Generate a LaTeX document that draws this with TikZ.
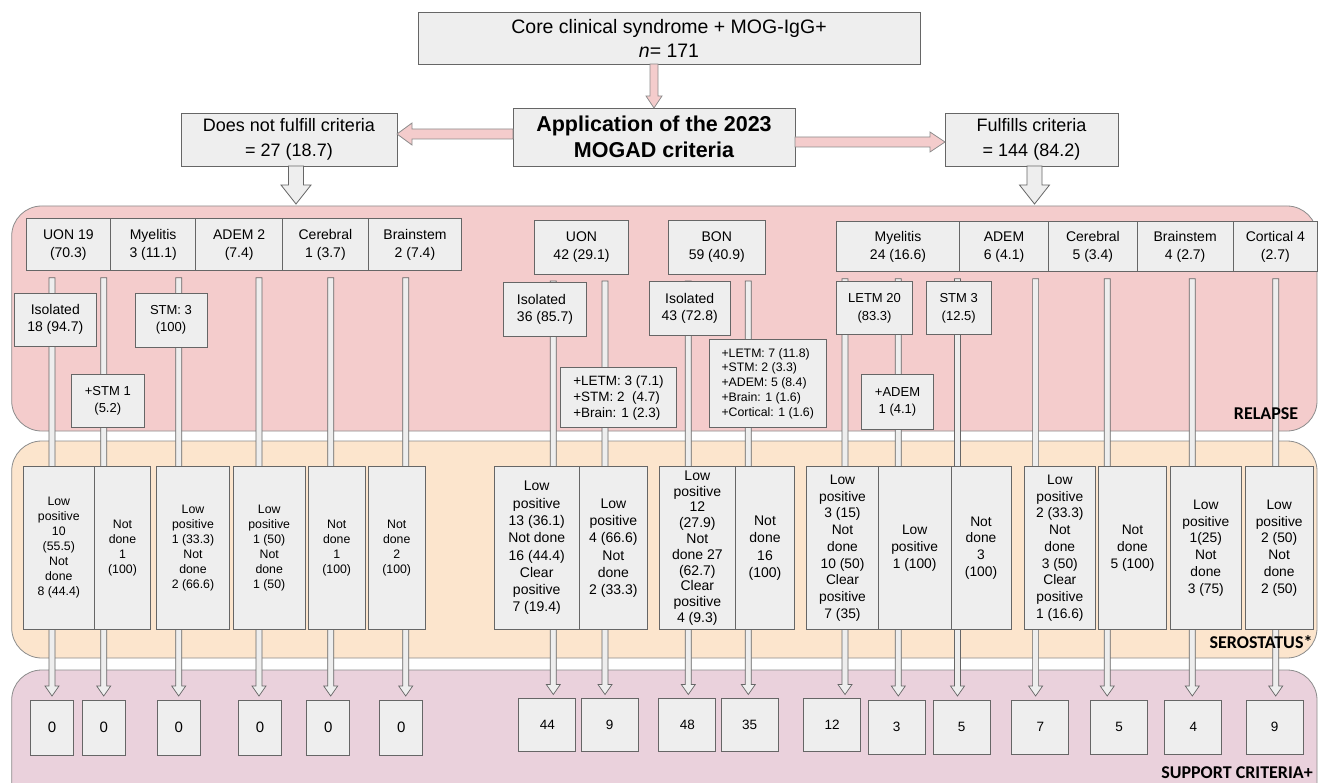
\documentclass[tikz,border=0pt]{standalone}
\usepackage{fontspec}
\setmainfont{Liberation Sans}
\newfontfamily\labelfont{Carlito}
\usetikzlibrary{positioning, calc}
\pgfdeclarelayer{background}
\pgfdeclarelayer{stems}
\pgfsetlayers{background,stems,main}
\definecolor{relapsepink}{HTML}{F4CCCC}
\definecolor{seropeach}{HTML}{FCE5CD}
\definecolor{supportmauve}{HTML}{EAD1DC}
\definecolor{boxfill}{HTML}{EEEEEE}
\definecolor{boxline}{HTML}{666666}
\definecolor{bandline}{HTML}{8C8C8C}
\newcommand{\blockarrow}[6]{%
  \coordinate (ba-h) at ($(#3)!#6!(#2)$);
  \path[#1] ($(#2)!#4!90:(#3)$) -- ($(ba-h)!#4!-90:(#2)$) -- ($(ba-h)!#5!-90:(#2)$)
    -- (#3) -- ($(ba-h)!#5!90:(#2)$) -- ($(ba-h)!#4!90:(#2)$) -- ($(#2)!#4!-90:(#3)$) -- cycle;}
\newcommand{\stem}[3][0pt]{%
  \coordinate (st-a) at ($(#3.north |- #2.south)+(#1,-7pt)$);
  \coordinate (st-b) at ($(#3.north)+(#1,4pt)$);
  \blockarrow{stembar}{st-a}{st-b}{3pt}{7pt}{10pt}}
\tikzset{
    box/.style={draw=boxline, fill=boxfill, line width=0.8pt, inner sep=1pt, outer sep=0pt, align=center},
    hdr/.style={box, minimum height=52pt, font=\fontsize{14}{18}\selectfont},
    subbig/.style={box, font=\fontsize{14}{17}\selectfont},
    subsmall/.style={box, font=\fontsize{13}{16.7}\selectfont},
    sero/.style={box, minimum height=162.6pt, font=\fontsize{12.3}{15}\selectfont},
    seromid/.style={sero, font=\fontsize{14}{17.3}\selectfont},
    seroright/.style={sero, font=\fontsize{13.8}{16.7}\selectfont},
    suppleft/.style={box, minimum width=43pt, minimum height=55pt, font=\fontsize{15}{17}\selectfont},
    supp/.style={box, minimum width=57pt, minimum height=54pt, font=\fontsize{13.5}{15}\selectfont},
    band/.style={draw=bandline, line width=0.8pt, rounded corners=30pt},
    bandlabel/.style={font=\labelfont\bfseries\fontsize{18}{20}\selectfont},
    pinkarrow/.style={draw=bandline, fill=relapsepink, line width=0.8pt},
    grayarrow/.style={draw=boxline, fill=boxfill, line width=0.8pt},
    stembar/.style={draw=boxline, fill=boxfill, line width=0.7pt},
}
\begin{document}
\begin{tikzpicture}[x=1pt, y=-1pt]
    \useasboundingbox (0,0) rectangle (1319,783);

    \node[box, minimum width=502pt, minimum height=52pt, font=\fontsize{19.5}{24}\selectfont] (core) at (669,38) {Core clinical syndrome + MOG-IgG+\\\textit{n}= 171};
    \node[box, minimum width=282pt, minimum height=58pt, font=\bfseries\fontsize{21.5}{26}\selectfont] (app) at (654,137) {Application of the 2023\\MOGAD criteria};
    \node[box, minimum width=216pt, minimum height=53pt, font=\fontsize{18}{25}\selectfont] (notful) at (289,139.5) {Does not fulfill criteria\\= 27 (18.7)};
    \node[box, minimum width=173pt, minimum height=53pt, font=\fontsize{18}{25}\selectfont] (ful) at (1031.5,139.5) {Fulfills criteria\\= 144 (84.2)};

    \coordinate (a0) at (core.south -| app.north);
    \blockarrow{pinkarrow}{a0}{app.north}{4pt}{8pt}{12pt}
    \coordinate (a1) at ($(app.west)+(0,-3)$);
    \blockarrow{pinkarrow}{a1}{notful.east |- a1}{5pt}{11pt}{15pt}
    \coordinate (a2) at ($(app.east)+(0,5)$);
    \blockarrow{pinkarrow}{a2}{ful.west |- a2}{5pt}{10pt}{15pt}
    \coordinate (a3) at ($(notful.south)+(7,0)$);
    \coordinate (a3t) at ($(a3)+(0,38)$);
    \blockarrow{grayarrow}{a3}{a3t}{7.5pt}{15pt}{19pt}
    \coordinate (a4) at ($(ful.south)+(3,0)$);
    \coordinate (a4t) at ($(a4)+(0,38)$);
    \blockarrow{grayarrow}{a4}{a4t}{7.5pt}{15pt}{19pt}

    \begin{pgfonlayer}{background}
      \draw[band, fill=relapsepink] (11.7,206) rectangle (1317,431);
      \draw[band, fill=seropeach] (11.7,441) rectangle (1317,658);
      \begin{scope}
        \clip (0,0) rectangle (1319,783);
        \draw[band, fill=supportmauve] (11.7,670) rectangle (1317,830);
      \end{scope}
    \end{pgfonlayer}

    % relapse
    \node[hdr, minimum width=84.7pt] (l1) at (68.3,244.8) {UON 19\\(70.3)};
    \node[hdr, minimum width=85pt, right=0pt of l1] (l2) {Myelitis\\3 (11.1)};
    \node[hdr, minimum width=87pt, right=0pt of l2] (l3) {ADEM 2\\(7.4)};
    \node[hdr, minimum width=85.6pt, right=0pt of l3] (l4) {Cerebral\\1 (3.7)};
    \node[hdr, minimum width=93.4pt, right=0pt of l4] (l5) {Brainstem\\2 (7.4)};
    \node[hdr, minimum width=94.4pt, minimum height=54pt] (m1) at (581.5,247) {UON\\42 (29.1)};
    \node[hdr, minimum width=97pt, minimum height=54pt] (m2) at (716.8,247) {BON\\59 (40.9)};
    \node[hdr, minimum width=122.6pt, minimum height=50pt] (r1) at (898,246.7) {Myelitis\\24 (16.6)};
    \node[hdr, minimum width=89.4pt, minimum height=50pt, right=0pt of r1] (r2) {ADEM\\6 (4.1)};
    \node[hdr, minimum width=88.3pt, minimum height=50pt, right=0pt of r2] (r3) {Cerebral\\5 (3.4)};
    \node[hdr, minimum width=96.3pt, minimum height=50pt, right=0pt of r3] (r4) {Brainstem\\4 (2.7)};
    \node[hdr, minimum width=84pt, minimum height=50pt, right=0pt of r4] (r5) {Cortical 4\\(2.7)};

    \node[subbig, minimum width=82.7pt, minimum height=53pt] (iso18) at (55.3,319.5) {Isolated\\18 (94.7)};
    \node[subsmall, minimum width=72pt, minimum height=54pt] (stm3) at (171,320) {STM: 3\\(100)};
    \node[subsmall, minimum width=72.3pt, minimum height=53.7pt] (pstm1) at (107.8,400.8) {+STM 1\\(5.2)};
    \node[subbig, align=left, minimum width=83.4pt, minimum height=54pt] (iso36) at (545,309.7) {Isolated\\36 (85.7)};
    \node[box, align=left, minimum width=116.4pt, minimum height=60pt, font=\fontsize{13.5}{16}\selectfont] (pletm3) at (618.5,397.7) {+LETM: 3 (7.1)\\+STM: 2 \ (4.7)\\+Brain: 1 (2.3)};
    \node[subbig, minimum width=80.7pt, minimum height=53.3pt] (iso43) at (689.7,308.3) {Isolated\\43 (72.8)};
    \node[box, align=left, minimum width=116.7pt, minimum height=88.4pt, font=\fontsize{12.3}{14.8}\selectfont] (pletm7) at (767.7,383.5) {+LETM: 7 (11.8)\\+STM: 2 (3.3)\\+ADEM: 5 (8.4)\\+Brain: 1 (1.6)\\+Cortical: 1 (1.6)};
    \node[box, minimum width=75.6pt, minimum height=53.4pt, font=\fontsize{13}{18}\selectfont] (letm20) at (874.5,308) {LETM 20\\(83.3)};
    \node[box, minimum width=65.3pt, minimum height=53.4pt, font=\fontsize{13}{18}\selectfont] (stm3r) at (958.7,308) {STM 3\\(12.5)};
    \node[subsmall, minimum width=71.6pt, minimum height=54.7pt] (padem) at (897.5,401.7) {+ADEM\\1 (4.1)};
    \node[bandlabel] (relapse) at (1266,414) {RELAPSE};

    % serostatus
    \node[sero, minimum width=71pt] (s1) at (58.8,548) {Low\\positive\\10\\(55.5)\\Not\\done\\8 (44.4)};
    \node[sero, minimum width=56.4pt, right=0pt of s1] (s2) {Not\\done\\1\\(100)};
    \node[sero, minimum width=72.6pt] (s3) at (193,548) {Low\\positive\\1 (33.3)\\Not\\done\\2 (66.6)};
    \node[sero, minimum width=71.7pt] (s4) at (269.2,548) {Low\\positive\\1 (50)\\Not\\done\\1 (50)};
    \node[sero, minimum width=56.7pt] (s5) at (336.7,548) {Not\\done\\1\\(100)};
    \node[sero, minimum width=56.7pt] (s6) at (396.7,548) {Not\\done\\2\\(100)};
    \node[seromid, minimum width=85.3pt] (s7) at (536.7,548) {Low\\positive\\13 (36.1)\\Not done\\16 (44.4)\\Clear\\positive\\7 (19.4)};
    \node[seromid, minimum width=68pt, right=0pt of s7] (s8) {Low\\positive\\4 (66.6)\\Not\\done\\2 (33.3)};
    \node[seromid, minimum width=76.7pt, inner sep=0pt, font=\fontsize{14}{15.8}\selectfont] (s9) at (697.3,548) {Low\\positive\\12\\(27.9)\\Not\\done 27\\(62.7)\\Clear\\positive\\4 (9.3)};
    \node[seromid, minimum width=58.6pt] (s10) at (765,548) {Not\\done\\16\\(100)};
    \node[seroright, minimum width=71.6pt] (s11) at (842.5,548) {Low\\positive\\3 (15)\\Not\\done\\10 (50)\\Clear\\positive\\7 (35)};
    \node[seroright, minimum width=72.7pt, right=0pt of s11] (s12) {Low\\positive\\1 (100)};
    \node[seroright, minimum width=60pt, right=0pt of s12] (s13) {Not\\done\\3\\(100)};
    \node[seroright, minimum width=71.7pt] (s14) at (1059.8,548) {Low\\positive\\2 (33.3)\\Not\\done\\3 (50)\\Clear\\positive\\1 (16.6)};
    \node[seroright, minimum width=68.4pt] (s15) at (1132.5,548) {Not\\done\\5 (100)};
    \node[seroright, minimum width=71.7pt] (s16) at (1205.8,548) {Low\\positive\\1(25)\\Not\\done\\3 (75)};
    \node[seroright, minimum width=68.3pt] (s17) at (1279.2,548) {Low\\positive\\2 (50)\\Not\\done\\2 (50)};
    \node[bandlabel] (serostatus) at (1261,642) {SEROSTATUS*};

    % support criteria
    \node[suppleft] (c1) at (52,727.5) {0};
    \node[suppleft] (c2) at (103.7,727.5) {0};
    \node[suppleft] (c3) at (178.7,727.5) {0};
    \node[suppleft] (c4) at (260,727.5) {0};
    \node[suppleft] (c5) at (328.3,727.5) {0};
    \node[suppleft] (c6) at (401.3,727.5) {0};
    \node[supp, minimum height=53pt] (c7) at (547.3,725) {44};
    \node[supp, minimum height=53pt] (c8) at (609.7,725) {9};
    \node[supp, minimum height=53pt] (c9) at (687.3,725) {48};
    \node[supp, minimum height=53pt] (c10) at (749.7,725) {35};
    \node[supp, minimum height=53pt] (c11) at (832,725) {12};
    \node[supp] (c12) at (896.7,727) {3};
    \node[supp] (c13) at (961.7,727) {5};
    \node[supp] (c14) at (1040.3,727) {7};
    \node[supp] (c15) at (1119,727) {5};
    \node[supp] (c16) at (1193.3,727) {4};
    \node[supp] (c17) at (1274.7,727) {9};
    \node[bandlabel] (support) at (1237,773) {SUPPORT CRITERIA+};

    \begin{pgfonlayer}{stems}
      \stem{l1}{c1}
      \stem{l1}{c2}
      \stem{l2}{c3}
      \stem[-1pt]{l3}{c4}
      \stem[2.4pt]{l4}{c5}
      \stem[4.4pt]{l5}{c6}
      \stem[6pt]{m1}{c7}
      \stem[-4.7pt]{m1}{c8}
      \stem[1pt]{m2}{c9}
      \stem[-1.4pt]{m2}{c10}
      \stem[13pt]{r1}{c11}
      \stem[1.6pt]{r1}{c12}
      \stem[-4.2pt]{r1}{c13}
      \stem[-4.7pt]{r2}{c14}
      \stem[-11.8pt]{r3}{c15}
      \stem[-1pt]{r4}{c16}
      \stem[1pt]{r5}{c17}
    \end{pgfonlayer}
\end{tikzpicture}
\end{document}
